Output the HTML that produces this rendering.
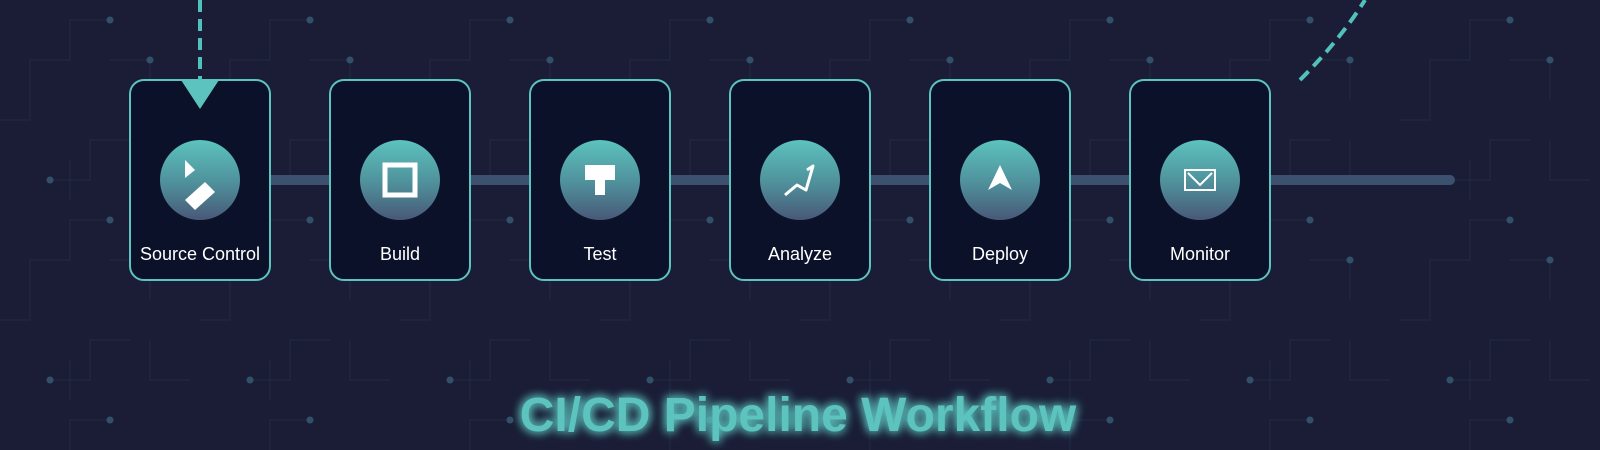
<!DOCTYPE html>
<html><head><meta charset="utf-8"><style>
html,body{margin:0;padding:0;width:1600px;height:450px;overflow:hidden;background:#1b1e37;}
svg{display:block}
</style></head><body>
<svg width="1600" height="450" viewBox="0 0 1600 450" xmlns="http://www.w3.org/2000/svg">
<defs>
<pattern id="grid" x="0" y="0" width="200" height="200" patternUnits="userSpaceOnUse">
<g stroke="#232a44" stroke-width="1" fill="none">
<path d="M30 60 H70 V20 H110 M110 60 H150 V100 M0 120 H30 V60 M50 180 H90 V140 H130 M150 140 V180 H190 M70 200 V160"/>
</g>
<g fill="#33506a">
<circle cx="110" cy="20" r="3.5"/><circle cx="150" cy="60" r="3.5"/><circle cx="50" cy="180" r="3.5"/>
</g>
</pattern>
<linearGradient id="cg" x1="0" y1="0" x2="0" y2="1">
<stop offset="0" stop-color="#5cc3be"/><stop offset="0.55" stop-color="#4f8f9a"/><stop offset="1" stop-color="#485878"/>
</linearGradient>
<filter id="glow" x="-20%" y="-50%" width="140%" height="200%">
<feGaussianBlur stdDeviation="5" result="b"/>
<feMerge><feMergeNode in="b"/><feMergeNode in="b"/><feMergeNode in="SourceGraphic"/></feMerge>
</filter>
</defs>
<rect width="1600" height="450" fill="#1a1d35"/>
<rect width="1600" height="450" fill="url(#grid)"/>
<line x1="200" y1="180" x2="1450" y2="180" stroke="#3c5170" stroke-width="10" stroke-linecap="round"/>
<path d="M1300 80 Q1340 40 1365 0" stroke="#52c0bb" stroke-width="4" fill="none" stroke-dasharray="12 7"/>
<g stroke="#5cc3be" stroke-width="2" fill="#0b1129">
<rect x="130" y="80" width="140" height="200" rx="14"/>
<rect x="330" y="80" width="140" height="200" rx="14"/>
<rect x="530" y="80" width="140" height="200" rx="14"/>
<rect x="730" y="80" width="140" height="200" rx="14"/>
<rect x="930" y="80" width="140" height="200" rx="14"/>
<rect x="1130" y="80" width="140" height="200" rx="14"/>
</g>
<line x1="200" y1="0" x2="200" y2="85" stroke="#52c0bb" stroke-width="4" stroke-dasharray="12 7"/>
<polygon points="181,80 219,80 200,109" fill="#5cc3be"/>
<g fill="url(#cg)">
<circle cx="200" cy="180" r="40"/><circle cx="400" cy="180" r="40"/><circle cx="600" cy="180" r="40"/>
<circle cx="800" cy="180" r="40"/><circle cx="1000" cy="180" r="40"/><circle cx="1200" cy="180" r="40"/>
</g>
<g fill="#fff">
<polygon points="185,160 195,170 185,178"/>
<polygon points="185,200 205,182 215,192 195,210"/>
<rect x="585" y="165" width="30" height="15"/><rect x="595" y="180" width="10" height="15"/>
<polygon points="1000,165 1012,190 1000,183 988,190"/>
</g>
<rect x="385" y="165" width="30" height="30" fill="none" stroke="#fff" stroke-width="5"/>
<polyline points="785,195 797,185 806,190 813,166 807,170" fill="none" stroke="#fff" stroke-width="3" stroke-linejoin="round"/>
<rect x="1185" y="170" width="30" height="20" fill="none" stroke="#fff" stroke-width="2"/>
<polyline points="1188,173 1200,185 1212,173" fill="none" stroke="#fff" stroke-width="2"/>
<g font-family="Liberation Sans, sans-serif" font-size="18" fill="#fff" text-anchor="middle">
<text x="200" y="260">Source Control</text><text x="400" y="260">Build</text><text x="600" y="260">Test</text>
<text x="800" y="260">Analyze</text><text x="1000" y="260">Deploy</text><text x="1200" y="260">Monitor</text>
</g>
<text x="798" y="431" text-anchor="middle" font-family="Liberation Sans, sans-serif" font-weight="bold" font-size="48" fill="#5cc3be" filter="url(#glow)">CI/CD Pipeline Workflow</text>
</svg>
</body></html>
